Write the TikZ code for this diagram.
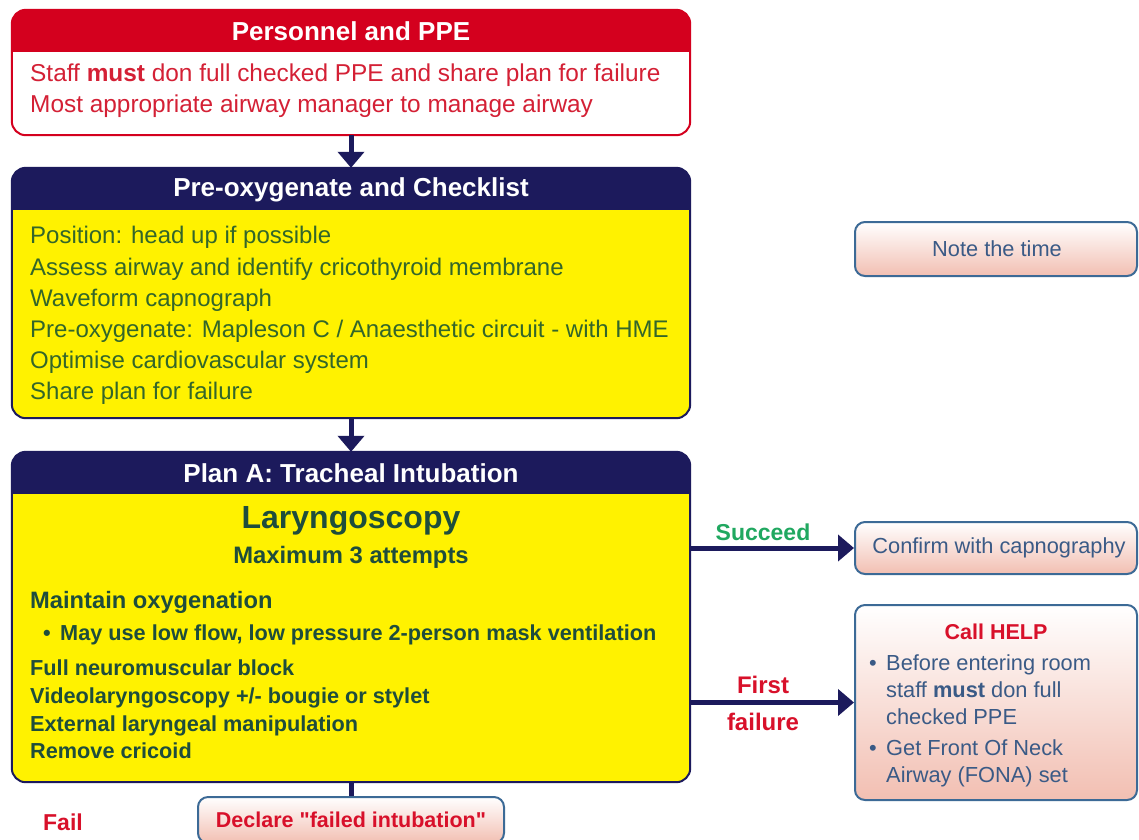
\documentclass[tikz,border=0pt]{standalone}
\usepackage{fontspec}
\setmainfont{Liberation Sans}[Ligatures=TeXOff]
\usetikzlibrary{arrows.meta,calc}
\definecolor{hdrred}{HTML}{D4001E}
\definecolor{redtxt}{HTML}{D42035}
\definecolor{navy}{HTML}{1C1A5C}
\definecolor{yel}{HTML}{FFF200}
\definecolor{grntxt}{HTML}{33662A}
\definecolor{darktxt}{HTML}{1E4D3C}
\definecolor{succ}{HTML}{20A860}
\definecolor{pinkbot}{HTML}{F2BFB2}
\definecolor{pinkborder}{HTML}{3C6A96}
\definecolor{pinktxt}{HTML}{3A5A86}
\definecolor{alert}{HTML}{D8102A}
\begin{document}
\begin{tikzpicture}[x=1pt,y=-1pt,
  bigbox/.style={inner sep=0pt, minimum width=678pt},
  frame/.style={line width=2pt, rounded corners=14pt},
  hdrtxt/.style={text=white, font=\fontsize{26}{30}\selectfont\bfseries, inner sep=0pt},
  bodyl/.style={anchor=base west, inner sep=0pt, font=\fontsize{24}{31}\selectfont},
  bodyb/.style={anchor=base west, inner sep=0pt, font=\fontsize{21.7}{28}\selectfont\bfseries, text=darktxt},
  pinkbox/.style={draw=pinkborder, line width=2pt, rounded corners=10pt, top color=white, bottom color=pinkbot, inner sep=0pt},
  pinkl/.style={inner sep=0pt, font=\fontsize{21.8}{26}\selectfont, text=pinktxt},
  flow/.style={draw=navy, line width=5pt, -{Triangle[width=26pt,length=16pt]}},
  lab/.style={inner sep=0pt, font=\fontsize{23}{28}\selectfont\bfseries}]
\useasboundingbox (0,0) rectangle (1139,839);
\fill[white] (0,0) rectangle (1139,839);

% ---- Box 1: Personnel and PPE
\node[bigbox, fill=white, rounded corners=14pt, minimum height=125pt] (b1) at (351,72.5) {};
\begin{scope}
  \clip[rounded corners=14pt] (b1.north west) rectangle (b1.south east);
  \fill[hdrred] (b1.north west) rectangle ([yshift=-42pt]b1.north east);
\end{scope}
\draw[frame, draw=hdrred] (b1.north west) rectangle (b1.south east);
\node[hdrtxt] (h1) at (351,31) {Personnel and PPE};
\node[bodyl, text=redtxt, font=\fontsize{24.4}{31}\selectfont] (p1) at (30,81) {Staff \textbf{must} don full checked PPE and share plan for failure};
\node[bodyl, text=redtxt, font=\fontsize{24.4}{31}\selectfont] (p2) at (30,112) {Most appropriate airway manager to manage airway};

% ---- Box 2: Pre-oxygenate
\node[bigbox, fill=yel, rounded corners=14pt, minimum height=250pt] (b2) at (351,293) {};
\begin{scope}
  \clip[rounded corners=14pt] (b2.north west) rectangle (b2.south east);
  \fill[navy] (b2.north west) rectangle ([yshift=-42pt]b2.north east);
\end{scope}
\draw[frame, draw=navy] (b2.north west) rectangle (b2.south east);
\node[hdrtxt] (h2) at (351,190) {Pre-oxygenate and Checklist};
\node[bodyl, text=grntxt] (c1) at (30,243) {Position: head up if possible};
\node[bodyl, text=grntxt] (c2) at (30,275) {Assess airway and identify cricothyroid membrane};
\node[bodyl, text=grntxt] (c3) at (30,306) {Waveform capnograph};
\node[bodyl, text=grntxt] (c4) at (30,337) {Pre-oxygenate: Mapleson C / Anaesthetic circuit - with HME};
\node[bodyl, text=grntxt] (c5) at (30,368) {Optimise cardiovascular system};
\node[bodyl, text=grntxt] (c6) at (30,399) {Share plan for failure};

% ---- Box 3: Plan A
\node[bigbox, fill=yel, rounded corners=14pt, minimum height=330pt] (b3) at (351,617) {};
\begin{scope}
  \clip[rounded corners=14pt] (b3.north west) rectangle (b3.south east);
  \fill[navy] (b3.north west) rectangle ([yshift=-42pt]b3.north east);
\end{scope}
\draw[frame, draw=navy] (b3.north west) rectangle (b3.south east);
\node[hdrtxt] (h3) at (351,473) {Plan A: Tracheal Intubation};
\node[inner sep=0pt, font=\fontsize{32}{36}\selectfont\bfseries, text=darktxt] (lar) at (351,521) {Laryngoscopy};
\node[inner sep=0pt, font=\fontsize{23.8}{28}\selectfont\bfseries, text=darktxt] (max) at (351,557) {Maximum 3 attempts};
\node[bodyb, font=\fontsize{23.7}{28}\selectfont\bfseries] (m1) at (30,608) {Maintain oxygenation};
\node[bodyb] (m2b) at (43,640) {•};
\node[bodyb, font=\fontsize{21.7}{26}\selectfont\bfseries] (m2) at (60,640) {May use low flow, low pressure 2-person mask ventilation};
\node[bodyb] (m3) at (30,675) {Full neuromuscular block};
\node[bodyb] (m4) at (30,703) {Videolaryngoscopy +/- bougie or stylet};
\node[bodyb] (m5) at (30,731) {External laryngeal manipulation};
\node[bodyb] (m6) at (30,758) {Remove cricoid};

% ---- right boxes
\node[pinkbox, minimum width=282pt, minimum height=54pt] (note) at (996,249) {};
\node[pinkl] (notet) at (997,249) {Note the time};
\node[pinkbox, minimum width=282pt, minimum height=52pt] (conf) at (996,548) {};
\node[pinkl] (conft) at (999,548) {Confirm with capnography};
\node[pinkbox, minimum width=282pt, minimum height=195pt] (help) at (996,702.5) {};
\node[inner sep=0pt, font=\fontsize{21.5}{26}\selectfont\bfseries, text=alert] (helpt) at (996,632) {Call HELP};
\node[pinkl, anchor=base west] (hb1) at (869,670) {•};
\node[pinkl, anchor=base west] (hl1) at (886,670) {Before entering room};
\node[pinkl, anchor=base west] (hl2) at (886,697) {staff \textbf{must} don full};
\node[pinkl, anchor=base west] (hl3) at (886,724) {checked PPE};
\node[pinkl, anchor=base west] (hb2) at (869,755) {•};
\node[pinkl, anchor=base west] (hl4) at (886,755) {Get Front Of Neck};
\node[pinkl, anchor=base west] (hl5) at (886,782) {Airway (FONA) set};

% ---- declare box
\node[pinkbox, minimum width=306pt, minimum height=46pt] (decl) at (351,820) {};
\node[inner sep=0pt, font=\fontsize{21.5}{26}\selectfont\bfseries, text=alert] (declt) at (351,820) {Declare "failed intubation"};

% ---- connectors
\draw[flow] (b1.south) -- (b2.north);
\draw[flow] (b2.south) -- (b3.north);
\draw[draw=navy, line width=5pt] (b3.south) -- (decl.north);
\draw[flow] (b3.east |- conf.west) -- (conf.west);
\draw[flow] (b3.east |- help.west) -- (help.west);

% ---- labels
\node[lab, text=succ] (succ) at (763,532) {Succeed};
\node[lab, text=alert, font=\fontsize{24}{28}\selectfont\bfseries] (first) at (763,685) {First};
\node[lab, text=alert, font=\fontsize{24}{28}\selectfont\bfseries] (fail1) at (763,722) {failure};
\node[lab, text=alert] (fail) at (63,822) {Fail};
\end{tikzpicture}
\end{document}
